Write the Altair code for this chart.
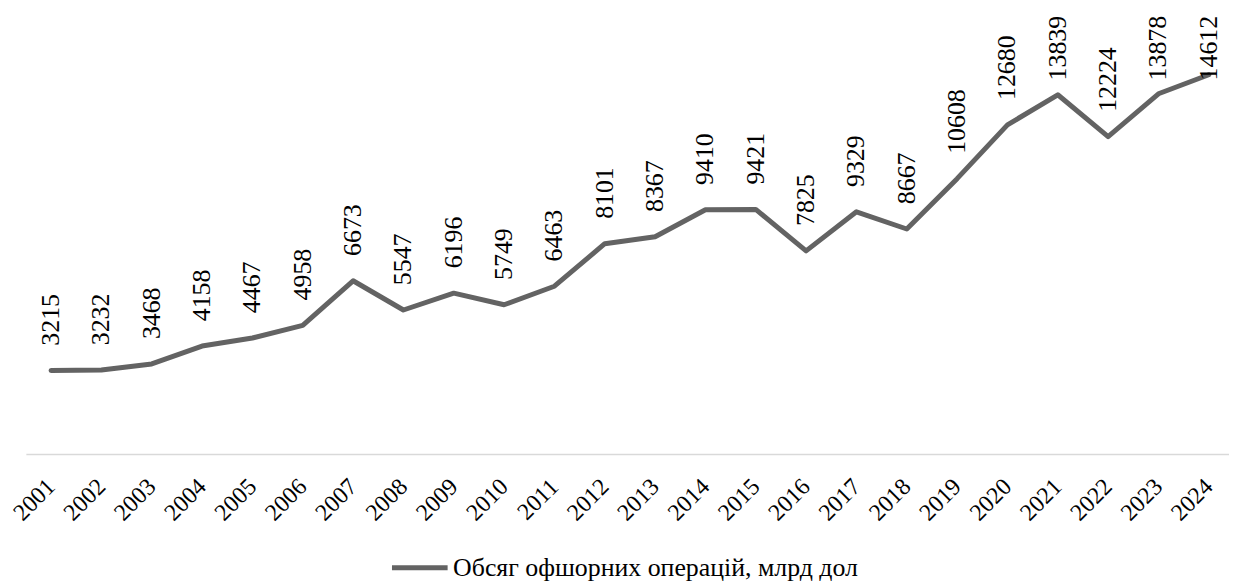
import altair as alt
import pandas as pd

years = [str(y) for y in range(2001, 2025)]
values = [3215, 3232, 3468, 4158, 4467, 4958, 6673, 5547, 6196, 5749, 6463, 8101,
          8367, 9410, 9421, 7825, 9329, 8667, 10608, 12680, 13839, 12224, 13878, 14612]
series_name = "Обсяг офшорних операцій, млрд дол"

df = pd.DataFrame({"year": years, "value": values, "series": [series_name] * len(years)})

FONT = "Times New Roman"
Y_MAX = 16000
LABEL_CAP = 13435  # labels near the top are pushed down to stay inside the chart

x_enc = alt.X("year:N", sort=years, title=None,
              scale=alt.Scale(range=[0, 1216], paddingInner=0, paddingOuter=0),
              axis=alt.Axis(labelAngle=315, labelAlign="right", labelBaseline="middle",
                            labelFont=FONT, labelFontSize=24, labelColor="#000000",
                            labelPadding=29, ticks=False, domainColor="#d9d9d9",
                            domainWidth=1.5, grid=False))
y_scale = alt.Scale(domain=[0, Y_MAX], nice=False)

line = alt.Chart(df).mark_line(strokeWidth=5, strokeCap="round", strokeJoin="round").encode(
    x=x_enc,
    y=alt.Y("value:Q", title=None, scale=y_scale, axis=None),
    color=alt.Color("series:N", title=None,
                    scale=alt.Scale(range=["#636363"]),
                    legend=alt.Legend(orient="none", legendX=366, legendY=502,
                                      symbolType="stroke", symbolStrokeWidth=5,
                                      symbolSize=3136, labelFont=FONT, labelFontSize=26,
                                      labelColor="#000000", labelLimit=1000, labelOffset=3)),
)

labels = alt.Chart(df).transform_calculate(
    label_y=f"min(datum.value, {LABEL_CAP})"
).mark_text(angle=270, align="left", baseline="middle", dx=25,
            font=FONT, fontSize=26, color="#000000").encode(
    x=alt.X("year:N", sort=years),
    y=alt.Y("label_y:Q", scale=y_scale, axis=None),
    text="value:Q",
)

chart = alt.layer(line, labels).properties(
    width=1211,
    height=418,
    autosize=alt.AutoSizeParams(type="none"),
    padding={"left": 18, "top": 29, "right": 0, "bottom": 130},
).configure_view(stroke=None)

chart.save("out.html", embed_options={"renderer": "svg", "actions": False})
